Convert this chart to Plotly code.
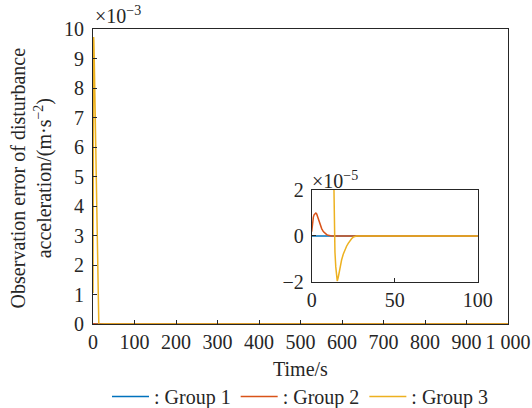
import plotly.graph_objects as go

# Observation error of the disturbance acceleration for three test groups (m/s^2)
t_g1 = [0, 1000]
err_g1 = [0.0, 0.0]

t_g2 = [0, 0.5, 1, 1.5, 2, 2.5, 3, 4, 5, 6, 7, 8, 9, 10, 12, 1000]
err_g2 = [0.19e-5, 0.6e-5, 0.82e-5, 0.93e-5, 0.99e-5, 1.0e-5, 0.96e-5, 0.75e-5,
          0.5e-5, 0.32e-5, 0.19e-5, 0.11e-5, 0.06e-5, 0.03e-5, 0.0, 0.0]

t_g3 = [0, 0.5, 1, 1.5, 2, 3, 4, 5, 6, 7, 8, 9, 10, 11, 12, 12.8, 13.2, 13.6,
        14, 14.5, 15, 15.4, 16, 17, 18, 19, 20, 21, 22, 23, 24, 25, 26, 27, 1000]
err_g3 = [1.05e-3, 7.0e-3, 9.5e-3, 9.73e-3, 9.6e-3, 9.0e-3, 8.1e-3, 7.1e-3,
          6.1e-3, 5.1e-3, 4.1e-3, 3.2e-3, 2.3e-3, 1.45e-3, 0.7e-3, 0.15e-3,
          0.03e-3, 0.0, -0.7e-5, -1.35e-5, -1.8e-5, -1.97e-5, -1.8e-5, -1.4e-5,
          -1.05e-5, -0.8e-5, -0.6e-5, -0.45e-5, -0.32e-5, -0.2e-5, -0.12e-5,
          -0.05e-5, -0.01e-5, 0.0, 0.0]

group_names = [": Group 1", ": Group 2", ": Group 3"]
group_colors = ["#0072BD", "#D95319", "#EDB120"]

# Main axis ticks
x_ticks = [0, 100, 200, 300, 400, 500, 600, 700, 800, 900, 1000]
x_tick_text = ["0", "100", "200", "300", "400", "500", "600", "700", "800", "900", "1 000"]
y_ticks = [i * 1e-3 for i in range(11)]
y_tick_text = [str(i) for i in range(11)]

# Inset axis ticks
inset_x_ticks = [0, 50, 100]
inset_y_ticks = [-2e-5, 0, 2e-5]
inset_y_tick_text = ["\u22122", "0", "2"]

FONT = "Liberation Serif"
INK = "#262626"

series = [(t_g1, err_g1), (t_g2, err_g2), (t_g3, err_g3)]

fig = go.Figure()
for (t, e), name, color in zip(series, group_names, group_colors):
    fig.add_trace(go.Scatter(x=t, y=e, mode="lines", name=name,
                             line=dict(color=color, width=1.5),
                             xaxis="x", yaxis="y"))
for (t, e), name, color in zip(series, group_names, group_colors):
    fig.add_trace(go.Scatter(x=t, y=e, mode="lines", name=name,
                             line=dict(color=color, width=1.5),
                             showlegend=False, xaxis="x2", yaxis="y2"))

axis_common = dict(showgrid=False, zeroline=False, showline=True, mirror=True,
                   linecolor=INK, linewidth=1, ticks="inside", ticklen=4,
                   tickcolor=INK, tickwidth=1, automargin=False,
                   tickfont=dict(family=FONT, size=20, color=INK))

fig.update_layout(
    width=532, height=408,
    margin=dict(l=93, r=24, t=29, b=84),
    paper_bgcolor="white", plot_bgcolor="white",
    font=dict(family=FONT, size=20, color=INK),
    xaxis=dict(domain=[0, 1], range=[0, 1000], tickvals=x_ticks,
               ticktext=x_tick_text, anchor="y", **axis_common),
    yaxis=dict(domain=[0, 1], range=[0, 0.01], tickvals=y_ticks,
               ticktext=y_tick_text, anchor="x", ticklabelstandoff=4,
               **axis_common),
    xaxis2=dict(domain=[0.527, 0.927], range=[0, 100], tickvals=inset_x_ticks,
                anchor="y2", **axis_common),
    yaxis2=dict(domain=[0.143, 0.454], range=[-2e-5, 2e-5],
                tickvals=inset_y_ticks, ticktext=inset_y_tick_text,
                anchor="x2", ticklabelstandoff=3, **axis_common),
    showlegend=True,
    legend=dict(orientation="h", x=0.5, xanchor="center",
                yref="container", y=0.028, yanchor="middle",
                font=dict(family=FONT, size=20, color=INK),
                bgcolor="rgba(0,0,0,0)", itemwidth=37, tracegroupgap=0),
    annotations=[
        dict(text="Time/s", xref="paper", yref="paper", x=0.5, y=-0.152,
             xanchor="center", yanchor="middle", showarrow=False,
             font=dict(family=FONT, size=20, color=INK)),
        dict(text="Observation error of disturbance<br>acceleration/(m\u00b7s<sup>\u22122</sup>)",
             xref="paper", yref="paper", x=-0.146, y=0.495, textangle=-90,
             xanchor="center", yanchor="middle", showarrow=False,
             font=dict(family=FONT, size=20, color=INK)),
        dict(text="\u00d710<sup>\u22123</sup>", xref="paper", yref="paper",
             x=0.0, y=1.0, xanchor="left", yanchor="bottom", showarrow=False,
             font=dict(family=FONT, size=20, color=INK)),
        dict(text="\u00d710<sup>\u22125</sup>", xref="paper", yref="paper",
             x=0.522, y=0.44, xanchor="left", yanchor="bottom", showarrow=False,
             font=dict(family=FONT, size=20, color=INK)),
    ],
)

fig.write_html("out.html")
